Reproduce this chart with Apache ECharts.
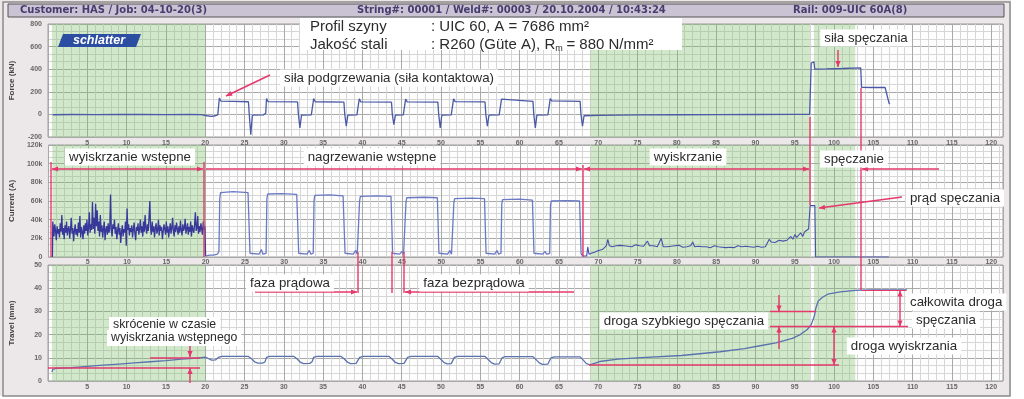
<!DOCTYPE html>
<html><head><meta charset="utf-8">
<script src="https://cdn.jsdelivr.net/npm/echarts@6.0.0/dist/echarts.min.js"></script>
<style>html,body{margin:0;padding:0;background:#fff;}#chart{width:1024px;height:399px;}</style>
</head><body><div id="chart"></div>
<script>
// ================= DATA =================
const timeTicks = [5,10,15,20,25,30,35,40,45,50,55,60,65,70,75,80,85,90,95,100,105,110,115,120];
const forceTicks = [-200,0,200,400,600,800];
const currentTicks = [0,20,40,60,80,100,120];
const currentTickLabels = ['0','20k','40k','60k','80k','100k','120k'];
const travelTicks = [0,10,20,30,40,50];

// shaded (flashing) time ranges [s]
const flashZones = [[0.5,20],[69,96.95],[97.45,102.7]];

// Force [s, kN]
const forceData = [[0.6,-3],[3,-1],[6,-2],[9,0],[12,-1],[15,-2],[18,0],[19.5,-2],[20.2,-12],[20.8,-18],[21.3,-12],[21.6,-4],[21.7,10],[21.8,145],[22.0,118],[23.5,116],[25.5,112],[25.6,5],[25.8,-180],[26.0,-6],[27.4,-4],[27.7,10],[27.8,140],[28.0,113],[31.75,110],[31.85,5],[32.05,-120],[32.25,-6],[33.5,-4],[33.7,8],[33.8,140],[34.0,112],[37.65,108],[37.75,5],[37.95,-105],[38.15,-6],[39.3,-4],[39.5,8],[39.6,138],[39.8,111],[43.7,108],[43.8,5],[44.0,-90],[44.2,-6],[45.2,-4],[45.4,8],[45.5,135],[45.7,111],[49.6,109],[49.7,5],[49.9,-120],[50.1,-6],[51.3,-4],[51.5,8],[51.6,138],[51.8,113],[55.6,110],[55.7,5],[55.9,-105],[56.1,-6],[57.4,-4],[57.6,8],[57.7,135],[57.9,118],[61.7,115],[61.8,5],[62.0,-120],[62.2,-6],[63.6,-4],[63.8,8],[63.9,140],[64.1,120],[67.7,116],[67.8,5],[68.0,-105],[68.2,-12],[70,-8],[75,-5],[80,-3],[85,-2],[90,-1],[95,0],[96.9,0],[97.0,2],[97.1,455],[97.25,470],[97.45,465],[97.55,400],[99,402],[101,406],[103.4,412],[103.5,240],[105,238],[106.5,238],[107.0,100],[107.1,90]];

// Current [s, kA]
const preflashOnset = [[0.5,0],[0.55,38]];
const preflashStart = 0.6, preflashStep = 0.1;
const preflashCurrent = [
40,22,35,28,18,33,25,30,21,36,
27,45,24,31,19,34,26,38,23,30,
33,20,29,42,25,31,17,28,35,24,
30,22,37,26,44,21,32,27,19,34,
25,36,28,40,23,31,48,26,35,29,
59,30,42,25,57,33,50,28,38,22,
45,27,34,21,30,38,18,29,33,24,
36,26,31,67,28,22,35,30,40,25,
32,19,28,36,24,31,15,27,34,22,
30,26,38,12,52,29,35,23,31,27,
34,21,29,37,25,18,32,28,36,24,
30,40,26,33,22,38,27,45,31,25,
35,28,42,60,30,24,38,27,33,21,
31,36,25,29,40,23,34,28,32,19,
27,35,30,24,38,26,33,21,29,36,
25,31,42,28,22,34,27,37,30,24,
33,26,39,29,23,35,28,31,41,25,
30,36,24,32,27,38,22,34,29,26,
35,48,28,31,44,25,33,27,36,30,
24,38,29,33];
const preheatCurrent = [[20.0,1],[20.5,2],[21.0,2],[21.5,3],[21.7,6],[21.8,62],[21.9,69],[22.1,70.5],[23.5,70],[25.4,69],[25.55,67],[25.65,4],[25.85,2],[26.8,3],[27.1,8],[27.3,3],[27.7,4],[27.8,62],[27.9,67.5],[28.1,68.5],[29.7,68],[31.6,67],[31.75,65],[31.85,4],[32.05,2],[32.9,3],[33.2,7],[33.4,3],[33.7,4],[33.8,60],[33.9,66],[34.1,67],[35.8,66.5],[37.5,65.5],[37.65,64],[37.75,4],[37.95,2],[38.8,3],[39.1,7],[39.3,3],[39.5,4],[39.6,60],[39.7,65],[39.9,66],[41.8,65.5],[43.6,65],[43.7,63],[43.8,4],[44.0,2],[44.7,3],[45.0,6],[45.2,3],[45.4,4],[45.5,58],[45.6,63.5],[45.8,64.5],[47.8,64],[49.5,63.5],[49.6,62],[49.7,4],[49.9,2],[50.8,3],[51.1,7],[51.3,3],[51.5,4],[51.6,58],[51.7,62.5],[51.9,63.5],[53.8,63],[55.5,62.5],[55.6,61],[55.7,4],[55.9,2],[56.8,3],[57.1,7],[57.3,3],[57.6,4],[57.7,57],[57.8,61.5],[58.0,62.5],[59.9,62],[61.6,61],[61.7,59],[61.8,4],[62.0,2],[62.9,3],[63.2,6],[63.4,3],[63.8,4],[63.9,55],[64.0,60],[64.2,61],[66.0,60.5],[67.6,60],[67.7,58],[67.8,3]];
const flashIntro = [[67.8,3],[68.1,1],[68.5,1],[68.65,11],[68.8,3],[69.1,4],[69.5,5],[70,7],[70.5,8],[71,12],[71.2,19],[71.4,12]];
const flashStart = 71.5, flashStep = 0.25;
const flashCurrent = [
12,11,13,12,11.5,12.5,11,12,13,11.5,
12,11,12.5,13,11,12,14,11.5,12,17,
12,11.5,12,13,11,12,20,11,12.5,11,
12,11.5,10.5,12,11,12.5,11,10.5,12,11,
11.5,12,16,11,10.5,11.5,12,11,10.5,11,
11,10,11.5,12,10.5,11,13,10.5,11,10,
11,10.5,11.5,10,11,12,10.5,11,10,11.5,
10.5,11,12,10.5,10,11.5,11,10.5,12,11,
15,19,16,17,15.5,16,18,16.5,17,19,
18,20,22,19,24,21,23,26,22,27,
25,30];
const upsetCurrent = [[96.95,55],[97.55,55],[97.65,0],[107,0]];

// Travel [s, mm]
const travelData = [[0.5,3.8],[0.6,5.0],[1,5.4],[3,5.8],[5,6.3],[7,6.8],[9,7.3],[11,7.8],[13,8.3],[15,8.8],[17,9.4],[19,9.9],[20,10.3],[20.4,9.7],[20.8,9.0],[21.3,9.1],[21.7,10.2],[22.1,10.6],[25.5,10.6],[25.9,9.6],[26.3,8.2],[26.7,7.7],[27.3,7.7],[27.6,8.2],[27.8,10.2],[28.2,10.6],[31.3,10.6],[31.7,9.5],[32.1,8.1],[32.5,7.5],[33.3,7.6],[33.6,8.3],[33.8,10.2],[34.2,10.6],[37.3,10.6],[37.7,9.5],[38.1,8.1],[38.5,7.5],[39.2,7.6],[39.45,8.3],[39.65,10.2],[40.1,10.6],[43.4,10.6],[43.8,9.4],[44.2,8.0],[44.6,7.5],[45.3,7.6],[45.55,8.3],[45.75,10.2],[46.2,10.6],[49.6,10.6],[50.0,9.3],[50.4,7.9],[50.8,7.4],[51.3,7.5],[51.5,8.3],[51.7,10.2],[52.1,10.6],[55.6,10.6],[56.0,9.3],[56.4,7.9],[56.8,7.3],[57.4,7.4],[57.6,8.2],[57.8,10.1],[58.2,10.5],[61.7,10.5],[62.1,9.2],[62.5,7.8],[62.9,7.2],[63.6,7.3],[63.8,8.1],[64.0,10.0],[64.4,10.4],[67.7,10.4],[68.1,9.0],[68.5,7.5],[68.9,7.0],[69.5,7.6],[70.2,8.4],[72.5,9.4],[75.5,10.1],[80.6,11.0],[85.5,12.6],[88.6,14.0],[90.6,15.2],[92.6,16.4],[94.7,18.4],[95.7,20.0],[96.6,22.2],[97.1,24.3],[97.5,28.0],[97.7,31.6],[98.0,34.5],[98.5,36.0],[99.2,37.4],[100.8,38.4],[102.7,39.1],[104.7,39.3],[109.3,39.3]];

// ================= CHART =================
const FONT = '"Liberation Sans", Arial, sans-serif';
const chart = echarts.init(document.getElementById('chart'), null, {renderer:'canvas'});
const L = 46, W = 957;
const grids = [
  {left:L, width:W, top:24, height:113},
  {left:L, width:W, top:145, height:112},
  {left:L, width:W, top:265, height:116}
];
grids.forEach(g => { g.show = true; g.backgroundColor = '#fdfdfd'; g.borderColor = '#9c9c9c'; g.borderWidth = 1; });

function xAx(i, margin) {
  return {gridIndex:i, type:'value', min:0, max:121.5, interval:5,
    axisLine:{show:false}, axisTick:{show:false},
    axisLabel:{fontSize:7, color:'#666', fontWeight:'bold', fontFamily:FONT, margin:margin, showMaxLabel:false,
      formatter:v => timeTicks.indexOf(v) >= 0 ? String(v) : ''},
    splitLine:{show:true, lineStyle:{color:'#a9a9a9', width:1}},
    minorTick:{show:false, splitNumber:5},
    minorSplitLine:{show:true, lineStyle:{color:'#d6d6d6', width:1}}};
}
function yAx(i, min, max, step, name, fmt) {
  return {gridIndex:i, type:'value', min:min, max:max, interval:step,
    name:name, nameLocation:'middle', nameGap:32, nameRotate:90,
    nameTextStyle:{fontSize:8, fontWeight:'bold', color:'#444', fontFamily:FONT},
    axisLine:{show:false}, axisTick:{show:false},
    axisLabel:{fontSize:7, color:'#666', fontWeight:'bold', fontFamily:FONT, margin:6, formatter:fmt},
    splitLine:{show:true, lineStyle:{color:'#a9a9a9', width:1}},
    minorTick:{show:false, splitNumber:3},
    minorSplitLine:{show:true, lineStyle:{color:'#d6d6d6', width:1}}};
}
const zoneArea = {silent:true, itemStyle:{color:'rgba(120,190,100,0.33)'},
  data: flashZones.map(z => [{xAxis:z[0]},{xAxis:z[1]}])};

const preflashSeries = preflashOnset.concat(
  preflashCurrent.map((v,i) => [+(preflashStart + i*preflashStep).toFixed(2), v]),
  [preheatCurrent[0]]);
const flashSeries = flashIntro.concat(
  flashCurrent.map((v,i) => [+(flashStart + i*flashStep).toFixed(2), v]),
  upsetCurrent);

const lineBase = {type:'line', showSymbol:false, symbol:'none', animation:false, silent:true};

chart.setOption({
  backgroundColor:'#ece7e8',
  animation:false,
  grid:grids,
  xAxis:[xAx(0,3), xAx(1,2), xAx(2,3)],
  yAxis:[
    yAx(0,-200,800,200,'Force (kN)', v => forceTicks.indexOf(v)>=0 ? String(v) : ''),
    yAx(1,0,120,20,'Current (A)', v => currentTickLabels[currentTicks.indexOf(v)] || ''),
    yAx(2,0,50,10,'Travel (mm)', v => travelTicks.indexOf(v)>=0 ? String(v) : '')
  ],
  series:[
    Object.assign({}, lineBase, {name:'Force', xAxisIndex:0, yAxisIndex:0, data:forceData,
      lineStyle:{color:'#4b5aa6', width:1.3}, markArea:zoneArea}),
    Object.assign({}, lineBase, {name:'Current preflash', xAxisIndex:1, yAxisIndex:1, data:preflashSeries,
      lineStyle:{color:'#38389a', width:1.3}, markArea:zoneArea}),
    Object.assign({}, lineBase, {name:'Current preheat', xAxisIndex:1, yAxisIndex:1, data:preheatCurrent,
      lineStyle:{color:'#6a7ac4', width:1.3}}),
    Object.assign({}, lineBase, {name:'Current flash', xAxisIndex:1, yAxisIndex:1, data:flashSeries,
      lineStyle:{color:'#4652a8', width:1.1}}),
    Object.assign({}, lineBase, {name:'Travel', xAxisIndex:2, yAxisIndex:2, data:travelData,
      lineStyle:{color:'#5a72ae', width:1.3}, markArea:zoneArea})
  ]
});

// ================= ANNOTATIONS =================
const RED = '#e5386b';
const G = [];
const ANN = '13.3px ' + FONT;
function ln(x1,y1,x2,y2,w){ G.push({type:'line', z:110, silent:true, shape:{x1,y1,x2,y2}, style:{stroke:RED, lineWidth:w||1.4}}); }
function head(tx,ty,fx,fy){
  const dx=tx-fx, dy=ty-fy, l=Math.hypot(dx,dy), ux=dx/l, uy=dy/l, s=6, h=2.6;
  const bx=tx-ux*s, by=ty-uy*s;
  G.push({type:'polygon', z:111, silent:true, shape:{points:[[tx,ty],[bx-uy*h,by+ux*h],[bx+uy*h,by-ux*h]]}, style:{fill:RED}});
}
function arrow(fx,fy,tx,ty){ ln(fx,fy,tx,ty); head(tx,ty,fx,fy); }
function dbl(x1,y1,x2,y2){ ln(x1,y1,x2,y2); head(x1,y1,x2,y2); head(x2,y2,x1,y1); }
function txt(t,x,y,o){
  G.push({type:'text', z:120, silent:true, x:x, y:y, style:Object.assign({text:t, fill:'#2b2b2b',
    font:ANN, align:'center', textAlign:'center', verticalAlign:'middle', textVerticalAlign:'middle',
    backgroundColor:'#ffffff', padding:[2,4]}, o||{})});
}

// page frame and header
G.push({type:'rect', z:1, silent:true, shape:{x:1011,y:0,width:13,height:399}, style:{fill:'#ffffff'}});
G.push({type:'rect', z:1, silent:true, shape:{x:0,y:396,width:1024,height:3}, style:{fill:'#ffffff'}});
G.push({type:'rect', z:2, silent:true, shape:{x:3,y:2,width:1007,height:394}, style:{fill:'none', stroke:'#8a8a8a', lineWidth:1.5}});
G.push({type:'rect', z:100, silent:true, shape:{x:8,y:4,width:996,height:13}, style:{fill:'#c9c3d4', stroke:'#555', lineWidth:1}});
const hdrFont = 'bold 10px "DejaVu Sans", Verdana, sans-serif';
[['Customer: HAS / Job: 04-10-20(3)',20],['String#: 00001 / Weld#: 00003 / 20.10.2004 / 10:43:24',357],['Rail: 009-UIC 60A(8)',793]].forEach(h=>{
  G.push({type:'text', z:101, silent:true, x:h[1], y:10.5, style:{text:h[0], fill:'#463d6e', font:hdrFont, align:'left', textAlign:'left', verticalAlign:'middle', textVerticalAlign:'middle'}});
});

// info box
G.push({type:'rect', z:100, silent:true, shape:{x:300,y:18,width:382,height:32}, style:{fill:'#ffffff'}});
const infoFont = '15px '+FONT;
function info(t,x,y,f){ G.push({type:'text', z:101, silent:true, x:x, y:y, style:{text:t, fill:'#2b2b2b', font:f||infoFont, align:'left', textAlign:'left', verticalAlign:'middle', textVerticalAlign:'middle'}}); }
info('Profil szyny',310,27);
info('Jakość stali',310,45);
info(': UIC 60, A = 7686 mm²',431,27);
const mctx = document.createElement('canvas').getContext('2d');
mctx.font = infoFont;
const p1 = ': R260 (Güte A), R';
const w1 = mctx.measureText(p1).width;
info(p1,431,45);
info('m',431+w1,49,'9px '+FONT);
info(' = 880 N/mm²',431+w1+7,45);

// schlatter logo
G.push({type:'polygon', z:100, silent:true, shape:{points:[[63,34],[141,34],[136,47],[58,47]]}, style:{fill:'#2c4ea2'}});
G.push({type:'text', z:101, silent:true, x:99, y:40.5, style:{text:'schlatter', fill:'#ffffff', font:'italic bold 12.5px '+FONT, align:'center', textAlign:'center', verticalAlign:'middle', textVerticalAlign:'middle'}});

// force panel
arrow(270,75,226,96);
txt('siła podgrzewania (siła kontaktowa)',389,78);
txt('siła spęczania',866,38);
arrow(838,50,838,67);
ln(810,117,810,205);
ln(861,88,861,290);

// current panel
ln(51,162,51,257); ln(204,162,204,257); ln(583,165,583,257);
dbl(52,169,203,169);
arrow(206,169,582,169);
dbl(584,169,809,169);
arrow(939,169,862,169);
txt('wyiskrzanie wstępne',130,157);
txt('nagrzewanie wstępne',372,157);
txt('wyiskrzanie',688,157);
txt('spęczanie',854,159);
txt('prąd spęczania',955,198);
arrow(902,197,819,208);

// travel panel
ln(358,252,358,293); ln(392,252,392,293); ln(404,252,404,293);
arrow(255,292,357,292);
arrow(574,292,405,292);
txt('faza prądowa',290,283);
txt('faza bezprądowa',474,283);
ln(150,358,200,358); ln(48,368,200,368);
arrow(190,343,190,357); arrow(190,383,190,368);
txt('skrócenie w czasie',109,325,{align:'left', textAlign:'left', font:'12.3px '+FONT});
txt('wyiskrzania wstępnego',107,338,{align:'left', textAlign:'left', font:'12.3px '+FONT});
ln(770,311.5,816,311.5); ln(770,326.5,908,326.5);
arrow(779,295,779,311.5); arrow(779,349,779,326.5);
txt('droga szybkiego spęczania',684,321);
ln(862,290.5,906,290.5,1);
dbl(900,290.5,900,326.5);
txt('całkowita droga',906,302,{align:'left', textAlign:'left'});
txt('spęczania',912,320,{align:'left', textAlign:'left'});
ln(589,365,839,365);
dbl(834,326.5,834,365);
txt('droga wyiskrzania',904,346);

chart.setOption({graphic:{elements:G}});
</script></body></html>
